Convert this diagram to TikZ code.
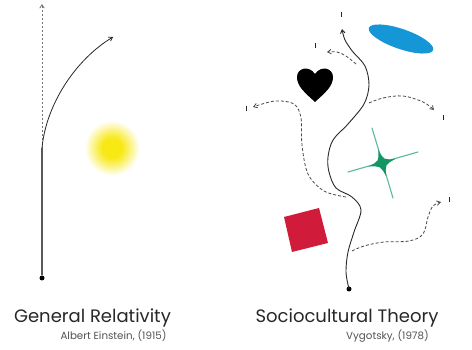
\documentclass[tikz,border=0pt]{standalone}
\usepackage{fontspec}
\setmainfont{Poppins}
\usetikzlibrary{arrows.meta}
\definecolor{sunY}{RGB}{248,232,20}
\definecolor{skyB}{RGB}{20,150,215}
\definecolor{starG}{RGB}{20,150,100}
\definecolor{armG}{RGB}{90,185,160}
\definecolor{boxR}{RGB}{208,28,58}
\definecolor{ink}{RGB}{40,40,40}
\pgfdeclareradialshading{sunglow}{\pgfpoint{0bp}{0bp}}{color(0bp)=(sunY); color(8bp)=(sunY); color(15bp)=(sunY!55!white); color(23bp)=(white); color(50bp)=(white)}
\begin{document}
\begin{tikzpicture}[x=1pt,y=-1pt,
  tip/.style={-{Straight Barb[length=3.5pt,width=4.5pt]}},
  dashline/.style={ink!85, line width=0.8pt, dash pattern=on 3pt off 2pt, tip},
  mainline/.style={ink, line width=0.9pt, tip},
  tick/.style={ink, line width=0.8pt},
  title/.style={font=\fontsize{18}{19}\selectfont, text=ink, inner sep=0pt, anchor=base},
  subtitle/.style={font=\fontsize{10.3}{11}\selectfont, text=ink!80, inner sep=0pt, anchor=base},
  dotnode/.style={circle, fill=black, inner sep=0pt, minimum size=5pt}]
\useasboundingbox (0,0) rectangle (472,350);
\fill[white] (0,0) rectangle (472,350);

% ---------- General Relativity ----------
\shade[shading=sunglow] (112,148) circle (30);
\node[dotnode] (gdot) at (42,278) {};
\coordinate (gmid) at (42,148);
\coordinate (gtop) at (42,4);
\coordinate (gcurve) at (113,37);
\draw[gray!70!black, line width=1.2pt] (gdot) -- (gmid);
\draw[gray!90!black, line width=0.8pt, dash pattern=on 2pt off 2pt, tip] (gmid) -- (gtop);
\draw[mainline, line width=0.8pt] (gmid) .. controls (46,105) and (75,60) .. (gcurve);
\node[title] (gtitle) at (92.5,323) {General Relativity};
\node[subtitle] (gsub) at (113.5,339) {Albert Einstein, (1915)};

% ---------- Sociocultural Theory ----------
% blue ellipse
\fill[skyB] (401,39) ellipse [x radius=34, y radius=10, rotate=-19];
% heart
\fill[black] (315,102) .. controls (304,92) and (297,86) .. (297,77)
  .. controls (297,68) and (309,65) .. (315,74)
  .. controls (321,65) and (333,68) .. (333,77)
  .. controls (333,86) and (326,92) .. (315,102) -- cycle;
% green star
\draw[armG, line width=1.1pt, line cap=round] (372,128) -- (393,198);
\draw[armG, line width=1.1pt, line cap=round] (348,172) -- (418,152);
\fill[starG] (378.2,149.6) .. controls (383.7,160.0) .. (395.4,158.9)
  .. controls (385.1,164.6) .. (386.2,176.3)
  .. controls (380.4,165.9) .. (368.4,166.5)
  .. controls (379.0,161.3) .. cycle;
% red square
\fill[boxR] (284,217) -- (319,208) -- (328,243) -- (292,252) -- cycle;

\node[dotnode] (sdot) at (349,289) {};
\coordinate (stop) at (342,29);
\draw[mainline] plot[smooth, tension=0.55] coordinates {(349,289) (346,272) (348,252) (354,232) (361,210) (352,197) (336,188) (329,172) (328,157) (333,140) (348,124) (364,104) (369,85) (365,66) (353,52) (345,40) (stop)};

% branches
\coordinate (bL) at (253,107);
\draw[dashline] plot[smooth, tension=0.55] coordinates {(346,197) (324,191) (308,174) (302,145) (301,118) (294,104) (275,101) (bL)};
\coordinate (bT) at (327,52);
\draw[dashline] plot[smooth, tension=0.6] coordinates {(356,64) (346,56) (337,52) (bT)};
\coordinate (bR) at (434,110);
\draw[dashline] plot[smooth, tension=0.6] coordinates {(369,103) (383,98) (403,96) (423,102) (bR)};
\coordinate (bD) at (441,202);
\draw[dashline] plot[smooth, tension=0.6] coordinates {(352,251) (364,246) (384,242) (409,241) (423,234) (428,217) (433,206) (bD)};

% small ticks beyond arrow ends
\draw[tick] (341,12) -- (341,17);
\draw[tick] (315,43) -- (315,48);
\draw[tick] (246,106) -- (246,111);
\draw[tick] (443,115) -- (443,120);
\draw[tick] (449,197) -- (449,202);

\node[title] (stitle) at (347,323) {Sociocultural Theory};
\node[subtitle] (ssub) at (387.5,339) {Vygotsky, (1978)};
\end{tikzpicture}
\end{document}
